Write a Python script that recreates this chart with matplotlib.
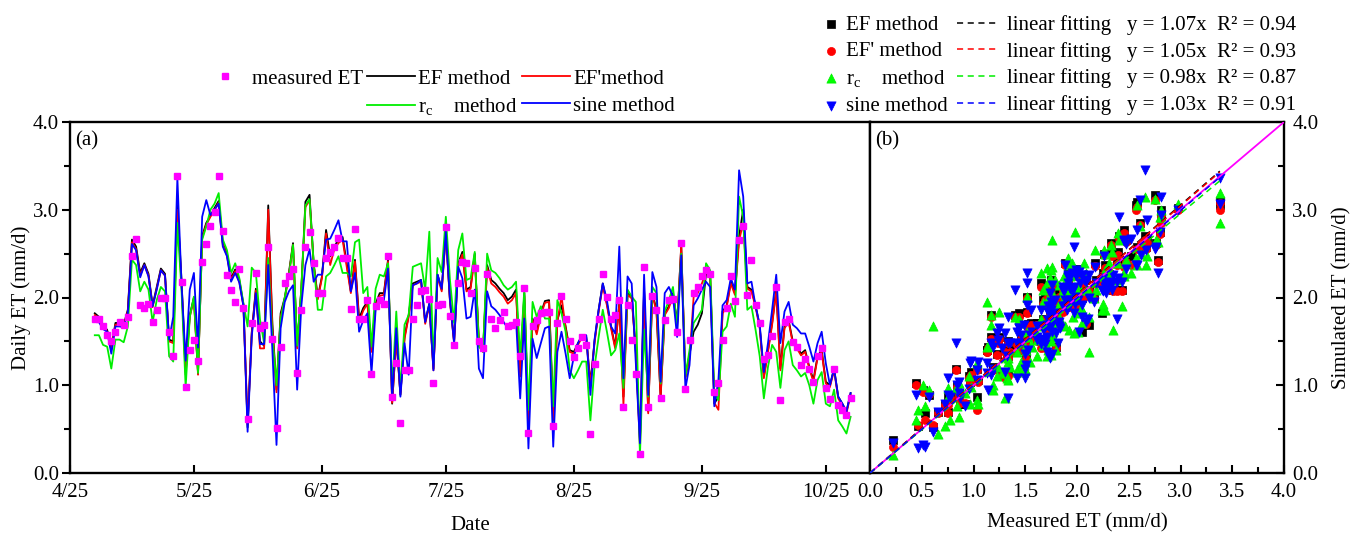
import numpy as np
import matplotlib
matplotlib.use("Agg")
from matplotlib import pyplot as plt
from matplotlib.lines import Line2D
from matplotlib.ticker import MultipleLocator

plt.rcParams["font.family"] = ["Liberation Serif", "DejaVu Serif"]
plt.rcParams["mathtext.fontset"] = "custom"
plt.rcParams["mathtext.rm"] = "Liberation Serif"
plt.rcParams["font.size"] = 15

# days after 4/25, daily series 5/1 .. 10/31
days = np.arange(6, 190)
tick_days = [0, 30, 61, 91, 122, 153, 183]
tick_labels = ["4/25", "5/25", "6/25", "7/25", "8/25", "9/25", "10/25"]

measured = [
    1.75, 1.76, 1.67, 1.57, 1.50, 1.61, 1.72, 1.69, 1.78, 2.47, 2.67, 1.91, 1.88, 1.93, 1.72, 1.86,
    1.99, 1.99, 1.61, 1.33, 3.38, 2.18, 0.98, 1.40, 1.52, 1.28, 2.41, 2.61, 2.81, 2.98, 3.38, 2.76,
    2.26, 2.09, 1.95, 2.32, 1.88, 0.61, 1.71, 2.28, 1.65, 1.69, 2.57, 1.53, 0.51, 1.44,
    2.16, 2.25, 2.33, 1.14, 1.86, 2.58, 2.75, 2.39, 2.05, 2.05, 2.45, 2.52, 2.58, 2.68, 2.45, 2.45,
    1.87, 2.78, 1.76, 1.76, 1.97, 1.13, 1.90, 1.97, 1.93, 2.47, 0.87, 1.25, 0.57, 1.17, 1.17, 1.76,
    1.91, 2.07, 2.09, 1.98, 1.03, 1.91, 1.93, 2.80, 1.79, 1.46, 2.17, 2.40, 2.39, 2.05,
    2.34, 1.50, 1.42, 2.27, 1.75, 1.65, 1.74, 1.83, 1.67, 1.69, 1.72, 1.33, 2.11, 0.46, 1.67, 1.74,
    1.82, 1.84, 1.83, 0.53, 1.71, 2.02, 1.76, 1.50, 1.32, 1.42, 1.55, 1.46, 0.44, 1.24, 1.75, 2.27,
    2.01, 1.75, 1.80, 1.97, 0.75, 1.91, 1.52, 1.13, 0.22, 2.35, 0.75, 2.02, 1.86, 0.86,
    1.74, 1.97, 1.98, 1.61, 2.62, 0.96, 1.51, 2.05, 2.12, 2.24, 2.31, 2.27, 0.92, 1.03, 1.52, 1.88,
    2.25, 1.96, 2.66, 2.81, 2.03, 2.43, 1.92, 1.71, 1.30, 1.35, 1.56, 2.12, 0.83, 1.72, 1.75, 1.49,
    1.44, 1.23, 1.30, 1.19, 1.04, 1.33, 1.42, 0.97, 0.84, 1.19, 0.77, 0.72, 0.66, 0.86,
]
ef = [
    1.82, 1.78, 1.69, 1.63, 1.42, 1.71, 1.71, 1.69, 1.86, 2.66, 2.58, 2.28, 2.39, 2.27, 1.91, 2.12,
    2.33, 2.27, 1.52, 1.50, 3.05, 2.20, 1.15, 1.80, 2.00, 1.13, 2.70, 2.85, 2.93, 3.02, 3.10, 2.62,
    2.50, 2.22, 2.32, 2.20, 1.92, 0.52, 1.60, 2.10, 1.50, 1.45, 3.05, 1.70, 0.95, 1.82,
    2.00, 2.28, 2.62, 1.44, 2.09, 3.09, 3.17, 2.39, 2.00, 2.24, 2.77, 2.47, 2.58, 2.66, 2.69, 2.39,
    2.07, 2.43, 1.76, 1.88, 1.95, 1.40, 1.93, 2.05, 2.05, 2.43, 0.79, 1.55, 0.89, 1.55, 1.80, 2.16,
    2.18, 2.20, 1.72, 1.93, 1.19, 2.26, 2.09, 2.75, 1.97, 1.50, 2.39, 2.52, 2.09, 2.12,
    2.50, 1.50, 1.40, 2.37, 2.20, 2.16, 2.10, 2.05, 1.97, 2.01, 2.09, 1.15, 2.05, 0.53, 1.76, 1.61,
    1.82, 1.96, 1.97, 0.68, 1.74, 1.91, 1.67, 1.40, 1.38, 1.48, 1.57, 1.55, 1.02, 1.50, 1.86, 2.16,
    1.93, 1.67, 1.44, 1.93, 0.87, 2.05, 2.01, 1.40, 0.38, 2.09, 0.70, 2.05, 1.86, 0.87,
    1.82, 1.90, 2.05, 1.71, 2.58, 1.10, 1.35, 1.61, 1.69, 1.82, 2.27, 2.26, 0.79, 0.87, 1.84, 1.91,
    2.18, 2.05, 2.70, 3.00, 2.12, 2.09, 1.91, 1.67, 1.10, 1.40, 1.71, 2.09, 1.19, 1.67, 1.74, 1.50,
    1.44, 1.36, 1.40, 1.21, 1.06, 1.33, 1.40, 1.04, 1.00, 1.19, 0.87, 0.79, 0.70, 0.91,
]
ef2 = [
    1.80, 1.76, 1.67, 1.61, 1.40, 1.69, 1.69, 1.67, 1.84, 2.63, 2.55, 2.25, 2.37, 2.25, 1.89, 2.10,
    2.31, 2.25, 1.50, 1.48, 3.00, 2.15, 1.12, 1.78, 1.98, 1.12, 2.68, 2.83, 2.92, 3.00, 3.08, 2.60,
    2.48, 2.20, 2.30, 2.18, 1.90, 0.55, 1.58, 2.08, 1.42, 1.42, 3.00, 1.65, 0.92, 1.78,
    1.98, 2.26, 2.60, 1.42, 2.07, 3.03, 3.11, 2.37, 1.98, 2.22, 2.73, 2.37, 2.55, 2.62, 2.66, 2.35,
    2.05, 2.41, 1.72, 1.85, 1.93, 1.38, 1.90, 2.02, 2.03, 2.41, 0.80, 1.53, 0.90, 1.53, 1.78, 2.14,
    2.16, 2.18, 1.70, 1.91, 1.17, 2.24, 2.07, 2.72, 1.95, 1.48, 2.36, 2.49, 2.07, 2.10,
    2.47, 1.48, 1.38, 2.34, 2.16, 2.12, 2.06, 2.01, 1.93, 1.97, 2.05, 1.10, 2.02, 0.55, 1.74, 1.58,
    1.80, 1.94, 1.95, 0.60, 1.72, 2.02, 1.65, 1.38, 1.36, 1.46, 1.55, 1.53, 1.00, 1.48, 1.84, 2.14,
    1.91, 1.65, 1.42, 1.92, 0.78, 2.03, 1.99, 1.38, 0.30, 2.07, 0.68, 2.03, 1.84, 0.85,
    1.80, 1.88, 2.03, 1.69, 2.60, 1.08, 1.30, 2.01, 2.05, 2.16, 2.29, 2.24, 0.80, 0.72, 1.82, 1.89,
    2.16, 2.03, 2.65, 2.85, 2.10, 2.07, 1.89, 1.65, 1.08, 1.38, 1.69, 2.07, 1.17, 1.65, 1.72, 1.48,
    1.42, 1.34, 1.38, 1.19, 1.04, 1.31, 1.38, 1.02, 0.98, 1.17, 0.85, 0.77, 0.68, 0.89,
]
rc = [
    1.57, 1.57, 1.46, 1.44, 1.19, 1.52, 1.52, 1.49, 1.67, 2.43, 2.37, 2.07, 2.18, 2.09, 1.72, 1.97,
    2.12, 2.07, 1.33, 1.27, 2.85, 2.09, 0.98, 1.78, 2.01, 1.14, 2.66, 2.81, 3.00, 3.07, 3.19, 2.66,
    2.54, 2.28, 2.39, 2.22, 1.93, 1.67, 2.34, 2.28, 1.75, 1.48, 2.45, 1.55, 1.00, 1.75,
    2.00, 2.25, 2.60, 1.45, 2.09, 3.05, 3.12, 2.39, 1.86, 1.86, 2.24, 2.28, 2.37, 2.47, 2.28, 2.28,
    2.24, 2.63, 2.66, 2.05, 2.12, 1.44, 2.10, 2.26, 2.24, 2.39, 0.95, 1.84, 0.95, 1.69, 1.80, 2.35,
    2.37, 2.39, 2.09, 2.75, 1.25, 2.45, 2.29, 2.92, 2.20, 1.71, 2.54, 2.73, 2.20, 2.22,
    2.52, 1.44, 1.38, 2.50, 2.31, 2.28, 2.22, 2.14, 2.09, 2.12, 2.18, 1.31, 2.09, 0.72, 1.95, 1.78,
    1.90, 1.76, 1.76, 0.76, 1.97, 1.82, 1.61, 1.17, 1.08, 1.17, 1.27, 1.27, 0.60, 1.21, 1.55, 1.86,
    1.61, 1.34, 1.40, 1.59, 0.97, 2.09, 2.01, 1.95, 0.20, 1.63, 0.87, 2.12, 2.05, 1.02,
    1.84, 1.97, 2.12, 1.67, 2.50, 1.10, 1.40, 1.71, 1.78, 1.86, 2.39, 2.31, 0.91, 0.83, 1.61, 1.67,
    1.93, 1.78, 3.15, 2.92, 1.86, 1.90, 1.63, 1.33, 0.85, 1.21, 1.46, 1.38, 0.97, 1.40, 1.50, 1.23,
    1.17, 1.10, 1.14, 1.00, 0.79, 1.06, 1.15, 0.79, 0.76, 0.95, 0.60, 0.53, 0.45, 0.64,
]
sine = [
    1.74, 1.72, 1.64, 1.61, 1.36, 1.67, 1.67, 1.66, 1.82, 2.61, 2.54, 2.23, 2.37, 2.24, 1.90, 2.09,
    2.31, 2.25, 1.52, 1.78, 3.36, 2.16, 1.28, 2.09, 2.28, 1.43, 2.92, 3.11, 2.94, 3.00, 3.07, 2.58,
    2.47, 2.18, 2.28, 2.17, 1.90, 0.47, 1.55, 2.05, 1.47, 1.47, 2.37, 1.40, 0.32, 1.65,
    1.95, 2.07, 2.14, 0.95, 1.90, 2.37, 2.55, 2.18, 2.26, 2.26, 2.66, 2.67, 2.77, 2.88, 2.64, 2.64,
    2.07, 2.28, 1.61, 1.74, 1.82, 1.14, 1.86, 1.97, 1.97, 2.33, 0.85, 1.65, 0.87, 1.48, 1.12, 2.14,
    2.16, 2.20, 1.72, 1.93, 1.17, 2.26, 2.10, 2.75, 1.97, 1.48, 2.35, 2.22, 1.76, 1.78,
    2.09, 1.19, 1.08, 2.07, 1.90, 1.86, 1.80, 1.72, 1.65, 1.67, 1.74, 0.85, 1.76, 0.28, 1.53, 1.31,
    1.48, 1.65, 1.67, 0.30, 1.38, 1.61, 1.36, 1.08, 1.33, 1.48, 1.57, 1.57, 0.89, 1.52, 1.86, 2.16,
    1.97, 1.67, 1.59, 2.58, 1.08, 2.24, 2.16, 1.25, 0.34, 2.26, 0.89, 2.29, 2.12, 1.04,
    2.05, 2.12, 2.01, 1.55, 2.48, 0.96, 1.23, 1.91, 1.99, 2.09, 2.18, 2.12, 0.76, 1.06, 1.91, 1.97,
    2.22, 2.09, 3.45, 3.15, 2.16, 2.18, 1.90, 1.69, 1.15, 1.48, 1.86, 2.26, 1.48, 1.84, 1.95, 1.69,
    1.65, 1.59, 1.59, 1.44, 1.27, 1.48, 1.61, 1.25, 1.00, 1.19, 0.87, 0.79, 0.70, 0.91,
]

# fit statistics as printed in the legend
fit_slopes = [1.07, 1.05, 0.98, 1.03]
fit_r2 = [0.94, 0.93, 0.87, 0.91]
# where the drawn dashed fit lines end
fit_x_end = 3.38
fit_y_end = [3.44, 3.43, 3.33, 3.37]

C_MEAS = "#ff00ff"
C_EF, C_EF2, C_RC, C_SINE = "#000000", "#ff0000", "#00ee00", "#0000ff"
RC_LABEL = r"r$_\mathregular{c}$    method"

fig = plt.figure(figsize=(13.52, 5.33), dpi=100)
W, H = 1352, 533
ax1 = fig.add_axes([70 / W, 60 / H, 800 / W, 351 / H])
ax2 = fig.add_axes([870 / W, 60 / H, 414 / W, 351 / H])

# ---- (a) time series
l_ef, = ax1.plot(days, ef, color=C_EF, lw=1.3, zorder=2)
l_ef2, = ax1.plot(days, ef2, color=C_EF2, lw=1.3, zorder=2)
l_rc, = ax1.plot(days, rc, color=C_RC, lw=1.3, zorder=2)
l_sine, = ax1.plot(days, sine, color=C_SINE, lw=1.3, zorder=2)
l_meas, = ax1.plot(days, measured, ls="none", marker="s", ms=5, color=C_MEAS, zorder=3)

ax1.set_xlim(0, 193.7)
ax1.set_ylim(0, 4)
ax1.set_xticks(tick_days)
ax1.set_xticklabels(tick_labels)
ax1.set_yticks([0, 1, 2, 3, 4])
ax1.set_yticklabels(["0.0", "1.0", "2.0", "3.0", "4.0"])
ax1.yaxis.set_minor_locator(MultipleLocator(0.5))
ax1.tick_params(axis="x", direction="in", length=6, width=1.5, pad=7)
ax1.tick_params(axis="y", which="major", direction="out", length=6, width=1.5, pad=2)
ax1.tick_params(axis="y", which="minor", direction="out", length=4, width=1.5)
ax1.set_xlabel("Date", labelpad=10)
ax1.set_ylabel("Daily ET (mm/d)", labelpad=1)
ax1.text(0.007, 0.975, "(a)", transform=ax1.transAxes, va="top", ha="left")
for s in ax1.spines.values():
    s.set_linewidth(1.7)

blank = Line2D([], [], ls="none")
fig.legend(
    [l_meas, blank, l_ef, l_rc, l_ef2, l_sine],
    ["measured ET", "", "EF method", RC_LABEL, "EF'method", "sine method"],
    ncol=3, loc="upper left", bbox_to_anchor=(201 / W, 1 - 69 / H),
    frameon=False, borderpad=0, handlelength=2.3, handletextpad=0.15,
    columnspacing=0.2, labelspacing=0.36, borderaxespad=0,
)

# ---- (b) scatter
s_ef = ax2.scatter(measured, ef, marker="s", s=26, color=C_EF, edgecolors=C_EF, lw=0.5, zorder=2)
s_ef2 = ax2.scatter(measured, ef2, marker="o", s=34, color=C_EF2, edgecolors=C_EF2, lw=0.5, zorder=2)
s_rc = ax2.scatter(measured, rc, marker="^", s=44, color="#00ff00", edgecolors="#00ee00", lw=0.5, zorder=2)
s_sine = ax2.scatter(measured, sine, marker="v", s=44, color=C_SINE, edgecolors=C_SINE, lw=0.5, zorder=2)

ax2.plot([0, 4], [0, 4], color=C_MEAS, lw=1.3, zorder=3)
fit_lines = []
for ye, c in zip(fit_y_end, [C_EF, C_EF2, C_RC, C_SINE]):
    ln, = ax2.plot([0, fit_x_end], [0, ye], color=c, lw=1.1, ls=(0, (4, 3)), zorder=3)
    fit_lines.append(ln)

ax2.set_xlim(0, 4)
ax2.set_ylim(0, 4)
ax2.set_xticks(np.arange(0, 4.01, 0.5))
ax2.set_xticklabels([f"{v:.1f}" for v in np.arange(0, 4.01, 0.5)])
ax2.xaxis.set_minor_locator(MultipleLocator(0.25))
ax2.set_yticks([0, 1, 2, 3, 4])
ax2.set_yticklabels(["0.0", "1.0", "2.0", "3.0", "4.0"])
ax2.yaxis.set_minor_locator(MultipleLocator(0.5))
ax2.yaxis.tick_right()
ax2.yaxis.set_label_position("right")
ax2.tick_params(axis="both", which="major", direction="in", length=6, width=1.5)
ax2.tick_params(axis="both", which="minor", direction="in", length=4, width=1.5)
ax2.tick_params(axis="x", pad=7)
ax2.tick_params(axis="y", pad=6)
ax2.set_xlabel("Measured ET (mm/d)", labelpad=8)
ax2.set_ylabel("Simulated ET (mm/d)", labelpad=10)
ax2.text(0.012, 0.975, "(b)", transform=ax2.transAxes, va="top", ha="left")
for s in ax2.spines.values():
    s.set_linewidth(1.7)

fig.legend(
    [s_ef, s_ef2, s_rc, s_sine],
    ["EF method", "EF' method", RC_LABEL, "sine method"],
    loc="upper left", bbox_to_anchor=(821 / W, 1 - 15 / H),
    frameon=False, borderpad=0, handlelength=1.0, handletextpad=0.2,
    labelspacing=0.33, borderaxespad=0, scatterpoints=1,
)
fit_labels = [f"linear fitting   y = {k:.2f}x  R\u00b2 = {r:.2f}" for k, r in zip(fit_slopes, fit_r2)]
fig.legend(
    fit_lines, fit_labels,
    loc="upper left", bbox_to_anchor=(957 / W, 1 - 15 / H),
    frameon=False, borderpad=0, handlelength=2.0, handletextpad=0.4,
    labelspacing=0.33, borderaxespad=0,
)

fig.savefig("out.png", dpi=100)
